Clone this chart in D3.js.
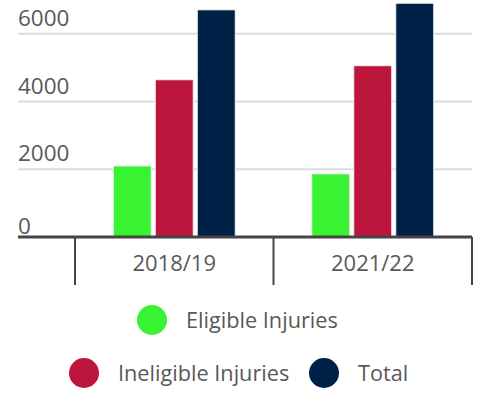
<!DOCTYPE html>
<html>
<head>
<meta charset="utf-8">
<script src="https://cdn.jsdelivr.net/npm/d3@7"></script>
<style>
  body { margin: 0; background: #fff; }
  svg { display: block; font-family: "Open Sans", sans-serif; }
</style>
</head>
<body>
<div id="chart"></div>
<script>
// data
var years = ["2018/19", "2021/22"];
var seriesNames = ["Eligible Injuries", "Ineligible Injuries", "Total"];
var eligible = [2100, 1865];
var ineligible = [4645, 5060];
var total = [6710, 6905];
var yTicks = [0, 2000, 4000, 6000];
var colors = ["#39f232", "#bd163d", "#002147"];

var width = 488, height = 395;
var left = 18, right = 472, bandLeft = 75;
var baseY = 237;

var svg = d3.select("#chart").append("svg")
    .attr("width", width)
    .attr("height", height);

var yScale = d3.scaleLinear()
    .domain([0, 7000])
    .range([baseY, 0]);

var xScale = d3.scaleBand()
    .domain(years)
    .range([bandLeft, right]);

var inner = d3.scaleBand()
    .domain(seriesNames)
    .range([-61, 61])
    .paddingInner(0.095);

// gridlines
svg.append("g")
    .selectAll("line")
    .data(yTicks.filter(d => d > 0))
    .enter()
    .append("line")
    .attr("x1", left)
    .attr("x2", right)
    .attr("y1", d => yScale(d))
    .attr("y2", d => yScale(d))
    .attr("stroke", "#dcdcdc")
    .attr("stroke-width", 2);

// y labels
svg.append("g")
    .selectAll("text")
    .data(yTicks)
    .enter()
    .append("text")
    .attr("x", left)
    .attr("y", d => yScale(d) - (d === 0 ? 3 : 8))
    .attr("fill", "#595959")
    .attr("font-size", "22.5px")
    .text(d => d);

// bars
var rows = years.map(function(y, i) {
    return { year: y, values: [eligible[i], ineligible[i], total[i]] };
});

var groups = svg.append("g")
    .selectAll("g")
    .data(rows)
    .enter()
    .append("g")
    .attr("transform", d => "translate(" + (xScale(d.year) + xScale.bandwidth() / 2) + ",0)");

groups.selectAll("rect")
    .data(d => d.values.map((v, j) => ({ name: seriesNames[j], value: v, color: colors[j] })))
    .enter()
    .append("rect")
    .attr("x", d => inner(d.name))
    .attr("width", inner.bandwidth())
    .attr("y", d => yScale(d.value))
    .attr("height", d => baseY - yScale(d.value))
    .attr("fill", d => d.color)
    .attr("stroke", "#f3f3f3")
    .attr("stroke-width", 1);

// x axis
svg.append("line")
    .attr("x1", left)
    .attr("x2", right)
    .attr("y1", baseY)
    .attr("y2", baseY)
    .attr("stroke", "#444")
    .attr("stroke-width", 3);

var tickXs = [bandLeft].concat(years.map(y => xScale(y) + xScale.bandwidth()));
svg.append("g")
    .selectAll("line")
    .data(tickXs)
    .enter()
    .append("line")
    .attr("x1", d => d)
    .attr("x2", d => d)
    .attr("y1", baseY)
    .attr("y2", 285)
    .attr("stroke", "#444")
    .attr("stroke-width", 2);

svg.append("g")
    .selectAll("text")
    .data(years)
    .enter()
    .append("text")
    .attr("x", d => xScale(d) + xScale.bandwidth() / 2)
    .attr("y", 271)
    .attr("text-anchor", "middle")
    .attr("fill", "#595959")
    .attr("font-size", "22px")
    .text(d => d);

// legend
var legendPos = [
    { cx: 152, cy: 320 },
    { cx: 84, cy: 373 },
    { cx: 324, cy: 373 }
];
var legend = svg.append("g")
    .selectAll("g")
    .data(seriesNames)
    .enter()
    .append("g")
    .attr("transform", (d, i) => "translate(" + legendPos[i].cx + "," + legendPos[i].cy + ")");

legend.append("circle")
    .attr("r", 15)
    .attr("fill", (d, i) => colors[i]);

legend.append("text")
    .attr("x", 34)
    .attr("y", 8)
    .attr("fill", "#595959")
    .attr("font-size", "21.7px")
    .text(d => d);
</script>
</body>
</html>
